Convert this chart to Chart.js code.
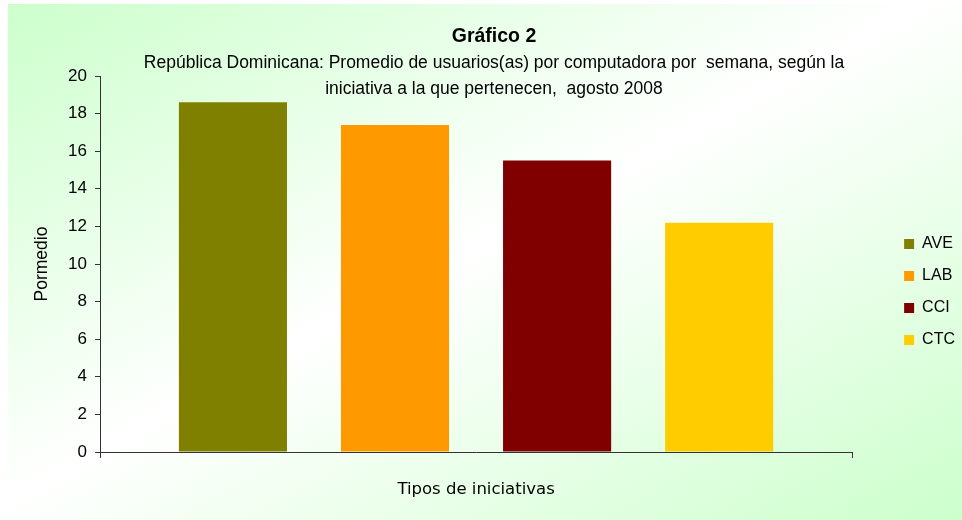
<!DOCTYPE html>
<html>
<head>
<meta charset="utf-8">
<script src="https://cdn.jsdelivr.net/npm/chart.js@4/dist/chart.umd.min.js"></script>
<style>
  html, body { margin: 0; padding: 0; background: #fff; }
  #box {
    position: absolute; left: 8px; top: 4px; width: 954px; height: 516px;
    background: linear-gradient(to bottom right, #ccffcc 0%, #ffffff 48%, #ccffcc 100%);
  }
</style>
</head>
<body>
<div id="box"><canvas id="chart" width="954" height="516"></canvas></div>
<script>
// data
const series = ['AVE', 'LAB', 'CCI', 'CTC'];
const values = [18.6, 17.4, 15.5, 12.2];
const colors = ['#808000', '#ff9900', '#800000', '#ffcc00'];
const yTicks = [0, 2, 4, 6, 8, 10, 12, 14, 16, 18, 20];

const chartTitle = 'Gráfico 2';
const subtitleLines = [
    'República Dominicana: Promedio de usuarios(as) por computadora por  semana, según la',
    'iniciativa a la que pertenecen,  agosto 2008'
];

Chart.defaults.font.family = '"Liberation Sans", Arial, sans-serif';
Chart.defaults.color = '#000';

// titles overlap the plot top, so they are painted by hand
const titlePlugin = {
    id: 'titles',
    afterDraw(chart) {
        const ctx = chart.ctx;
        ctx.save();
        ctx.fillStyle = '#000';
        ctx.textAlign = 'center';
        ctx.textBaseline = 'middle';
        ctx.font = 'bold 19.5px "Liberation Sans", Arial, sans-serif';
        ctx.fillText(chartTitle, 486, 33);
        ctx.font = '17.5px "Liberation Sans", Arial, sans-serif';
        subtitleLines.forEach((line, i) => ctx.fillText(line, 486, 59 + i * 26));
        ctx.restore();
    }
};

// move the legend to where the original has it
const legendShift = {
    id: 'legendShift',
    afterLayout(chart) {
        const lg = chart.legend;
        lg.top -= 6;
        lg.bottom -= 6;
        lg.left += 36;
        lg.right += 36;
    }
};

new Chart(document.getElementById('chart'), {
    type: 'bar',
    data: {
        labels: [''],
        datasets: series.map((name, i) => ({
            label: name,
            data: [values[i]],
            backgroundColor: colors[i],
            categoryPercentage: 0.862,
            barPercentage: 0.667
        }))
    },
    options: {
        responsive: false,
        animation: false,
        devicePixelRatio: 1,
        layout: { padding: { top: 72, left: 20, right: 33, bottom: 0 } },
        plugins: {
            legend: {
                position: 'right',
                labels: {
                    boxWidth: 10,
                    boxHeight: 10,
                    padding: 16,
                    font: { size: 16 }
                }
            },
            tooltip: { enabled: false }
        },
        scales: {
            x: {
                offset: true,
                grid: { drawOnChartArea: false, tickLength: 6, color: '#333' },
                border: { color: '#333' },
                ticks: { display: false },
                title: {
                    display: true,
                    text: 'Tipos de iniciativas',
                    font: { family: '"DejaVu Sans", Verdana, sans-serif', size: 16.5 },
                    padding: { top: 4, bottom: 20 }
                },
                afterFit(scale) { scale.height = 68; }
            },
            y: {
                min: 0,
                max: 20,
                afterBuildTicks(scale) { scale.ticks = yTicks.map(v => ({ value: v })); },
                grid: { drawOnChartArea: false, tickLength: 5, color: '#333' },
                border: { color: '#333' },
                ticks: { padding: 8, font: { size: 17 } },
                title: {
                    display: true,
                    text: 'Pormedio',
                    font: { size: 17.5 },
                    padding: { top: 4, bottom: 4 }
                },
                afterFit(scale) { scale.width = 72; }
            }
        }
    },
    plugins: [titlePlugin, legendShift]
});
</script>
</body>
</html>
